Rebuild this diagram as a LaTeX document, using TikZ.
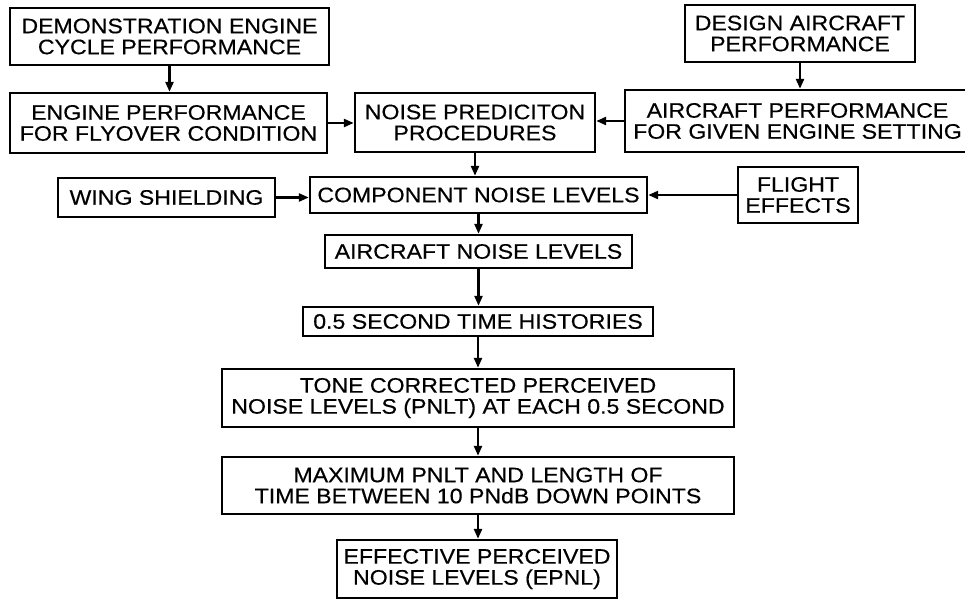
\documentclass[tikz,border=0pt]{standalone}
\usepackage{fontspec}
\setmainfont{Liberation Sans}[FakeStretch=1.1,FakeBold=0.4]
\usetikzlibrary{arrows.meta}
\begin{document}
\begin{tikzpicture}[x=1pt,y=-1pt,
  box/.style={draw, line width=2.4pt, inner sep=0pt, align=center,
    font=\fontsize{21}{21}\selectfont},
  arr/.style={line width=2.4pt, -{Triangle[length=10pt,width=8pt]}}]
\useasboundingbox (0,0) rectangle (965,600);
\node[box, minimum width=319pt, minimum height=57pt] (demo) at (169.5,36.5) {DEMONSTRATION ENGINE\\CYCLE PERFORMANCE};
\node[box, minimum width=317pt, minimum height=60pt] (eng) at (168.5,123) {ENGINE PERFORMANCE\\FOR FLYOVER CONDITION};
\node[box, minimum width=240pt, minimum height=59pt] (npp) at (475,122.5) {NOISE PREDICITON\\PROCEDURES};
\node[box, minimum width=230pt, minimum height=57pt] (des) at (800,33.5) {DESIGN AIRCRAFT\\PERFORMANCE};
\node[box, minimum width=345pt, minimum height=62pt] (acp) at (797.5,121) {AIRCRAFT PERFORMANCE\\FOR GIVEN ENGINE SETTING};
\node[box, minimum width=337pt, minimum height=36pt] (comp) at (478.5,195) {COMPONENT NOISE LEVELS};
\node[box, minimum width=217pt, minimum height=39pt] (wing) at (166.5,197.5) {WING SHIELDING};
\node[box, minimum width=120pt, minimum height=56pt] (flight) at (798,195) {FLIGHT\\EFFECTS};
\node[box, minimum width=307pt, minimum height=33pt] (acn) at (478.5,251.5) {AIRCRAFT NOISE LEVELS};
\node[box, minimum width=350pt, minimum height=29pt] (half) at (478,321.5) {0.5 SECOND TIME HISTORIES};
\node[box, minimum width=512pt, minimum height=58pt] (tone) at (478,398) {TONE CORRECTED PERCEIVED\\NOISE LEVELS (PNLT) AT EACH 0.5 SECOND};
\node[box, minimum width=512pt, minimum height=57pt] (max) at (478,485.5) {MAXIMUM PNLT AND LENGTH OF\\TIME BETWEEN 10 PNdB DOWN POINTS};
\node[box, minimum width=280pt, minimum height=58pt] (epnl) at (477,569) {EFFECTIVE PERCEIVED\\NOISE LEVELS (EPNL)};
\draw[arr] (demo.south) -- (demo.south |- eng.north);
\draw[arr] (des.south) -- (des.south |- acp.north);
\draw[arr] (eng.east) -- (eng.east -| npp.west);
\draw[arr] (acp.west) -- (acp.west -| npp.east);
\draw[arr] (npp.south) -- (npp.south |- comp.north);
\draw[arr] (wing.east) -- (wing.east -| comp.west);
\draw[arr] (flight.west) -- (flight.west -| comp.east);
\draw[arr] (comp.south) -- (comp.south |- acn.north);
\draw[arr] (acn.south) -- (acn.south |- half.north);
\draw[arr] (half.south) -- (half.south |- tone.north);
\draw[arr] (tone.south) -- (tone.south |- max.north);
\draw[arr] (max.south) -- (max.south |- epnl.north);
\end{tikzpicture}
\end{document}
